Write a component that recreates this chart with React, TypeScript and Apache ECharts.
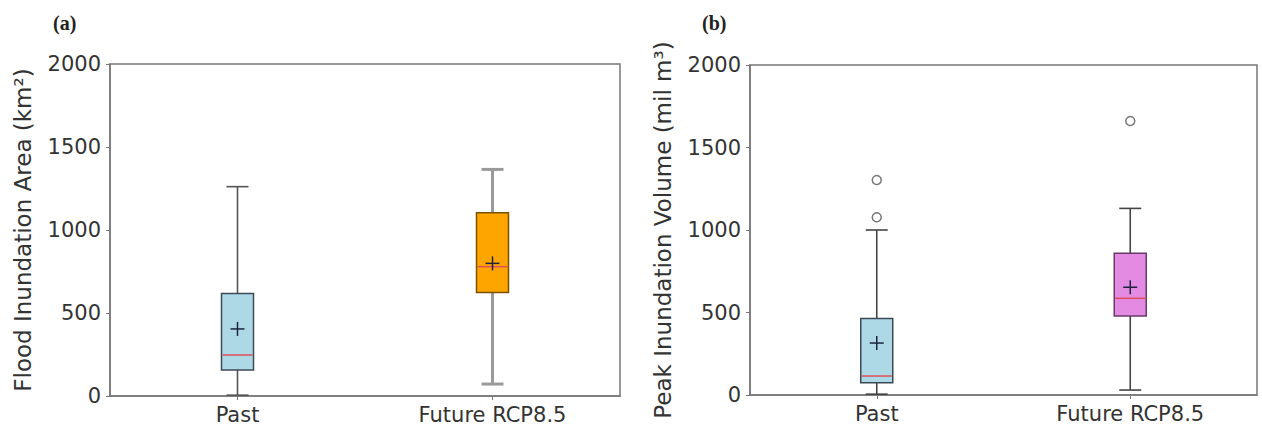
import React, { useEffect, useRef } from "react";
import * as echarts from "echarts";

const categories = ["Past", "Future RCP8.5"];
const yTicks = [0, 500, 1000, 1500, 2000];
// [min, Q1, median, Q3, max]
const areaPast = [5, 157, 247, 618, 1261];
const areaFuture = [72, 624, 779, 1104, 1365];
const areaMeans = [404, 799];
const volumePast = [5, 75, 115, 463, 1000];
const volumeFuture = [30, 479, 586, 859, 1131];
const volumeMeans = [315, 653];
const volumeOutliersPast = [1077, 1303];
const volumeOutliersFuture = [1661];

const panelStyles = [
  [
    { fill: "#add8e6", edge: "#3d4a55", whisker: "#555555", whiskerWidth: 1.6 },
    { fill: "#ffa500", edge: "#7a5200", whisker: "#9a9a9a", whiskerWidth: 3 },
  ],
  [
    { fill: "#add8e6", edge: "#3d4a55", whisker: "#444444", whiskerWidth: 1.6 },
    { fill: "#e38ae3", edge: "#6a3a6a", whisker: "#444444", whiskerWidth: 1.6 },
  ],
];

function boxRows(stats: number[][], means: number[]) {
  return stats.map((s, i) => [i, s[0], s[1], s[2], s[3], s[4], means[i]]);
}

function makeRender(panel: number) {
  return (params: any, api: any) => {
    const idx = api.value(0);
    const st = panelStyles[panel][idx];
    const x = api.coord([idx, 0])[0];
    const yMin = api.coord([idx, api.value(1)])[1];
    const yQ1 = api.coord([idx, api.value(2)])[1];
    const yMed = api.coord([idx, api.value(3)])[1];
    const yQ3 = api.coord([idx, api.value(4)])[1];
    const yMax = api.coord([idx, api.value(5)])[1];
    const yMean = api.coord([idx, api.value(6)])[1];
    const bw = 32;
    const cw = 22;
    const pm = 7;
    const wStyle = { stroke: st.whisker, lineWidth: st.whiskerWidth };
    return {
      type: "group",
      children: [
        { type: "line", shape: { x1: x, y1: yMin, x2: x, y2: yQ1 }, style: wStyle },
        { type: "line", shape: { x1: x, y1: yQ3, x2: x, y2: yMax }, style: wStyle },
        { type: "line", shape: { x1: x - cw / 2, y1: yMin, x2: x + cw / 2, y2: yMin }, style: wStyle },
        { type: "line", shape: { x1: x - cw / 2, y1: yMax, x2: x + cw / 2, y2: yMax }, style: wStyle },
        {
          type: "rect",
          shape: { x: x - bw / 2, y: yQ3, width: bw, height: yQ1 - yQ3 },
          style: { fill: st.fill, stroke: st.edge, lineWidth: 1.5 },
        },
        {
          type: "line",
          shape: { x1: x - bw / 2 + 1, y1: yMed, x2: x + bw / 2 - 1, y2: yMed },
          style: { stroke: "#e0505a", lineWidth: 1.5 },
        },
        { type: "line", shape: { x1: x - pm, y1: yMean, x2: x + pm, y2: yMean }, style: { stroke: "#1c2440", lineWidth: 1.5 } },
        { type: "line", shape: { x1: x, y1: yMean - pm, x2: x, y2: yMean + pm }, style: { stroke: "#1c2440", lineWidth: 1.5 } },
      ],
    };
  };
}

const font = "DejaVu Sans";

function makeXAxis(gridIndex: number) {
  return {
    type: "category",
    gridIndex,
    data: categories,
    boundaryGap: true,
    axisLine: { show: true, lineStyle: { color: "#777", width: 1.5 } },
    axisTick: { show: true, alignWithLabel: true, length: 4, lineStyle: { color: "#777" } },
    axisLabel: { color: "#333", fontFamily: font, fontSize: 21, margin: 8 },
    splitLine: { show: false },
  };
}

function makeYAxis(gridIndex: number, name: string) {
  return {
    type: "value",
    gridIndex,
    min: yTicks[0],
    max: yTicks[yTicks.length - 1],
    interval: yTicks[1] - yTicks[0],
    name,
    nameLocation: "middle",
    nameGap: 76,
    nameTextStyle: { color: "#333", fontFamily: font, fontSize: 23 },
    axisLine: { show: true, lineStyle: { color: "#777", width: 1.5 } },
    axisTick: { show: true, length: 4, lineStyle: { color: "#777" } },
    axisLabel: {
      color: "#333",
      fontFamily: font,
      fontSize: 21,
      margin: 9,
      formatter: (v: number) => String(v),
    },
    splitLine: { show: false },
  };
}

export default function App() {
  const ref = useRef<HTMLDivElement>(null);
  useEffect(() => {
    if (!ref.current) return;
    const chart = echarts.init(ref.current, null, { renderer: "svg" });
    const titleStyle = { fontFamily: "Liberation Serif", fontSize: 20, fontWeight: "bold", color: "#222" };
    chart.setOption({
      animation: false,
      backgroundColor: "#ffffff",
      title: [
        { text: "(a)", left: 48, top: 8, textStyle: titleStyle },
        { text: "(b)", left: 697, top: 8, textStyle: titleStyle },
      ],
      grid: [
        { left: 110, right: 642, top: 64, bottom: 36, show: true, borderColor: "#777", borderWidth: 1.5 },
        { left: 750, right: 5, top: 65, bottom: 37, show: true, borderColor: "#777", borderWidth: 1.5 },
      ],
      xAxis: [makeXAxis(0), makeXAxis(1)],
      yAxis: [
        makeYAxis(0, "Flood Inundation Area (km²)"),
        makeYAxis(1, "Peak Inundation Volume (mil m³)"),
      ],
      series: [
        {
          type: "custom",
          xAxisIndex: 0,
          yAxisIndex: 0,
          renderItem: makeRender(0),
          encode: { x: 0, y: [1, 2, 3, 4, 5, 6] },
          data: boxRows([areaPast, areaFuture], areaMeans),
          z: 5,
        },
        {
          type: "custom",
          xAxisIndex: 1,
          yAxisIndex: 1,
          renderItem: makeRender(1),
          encode: { x: 0, y: [1, 2, 3, 4, 5, 6] },
          data: boxRows([volumePast, volumeFuture], volumeMeans),
          z: 5,
        },
        {
          type: "scatter",
          xAxisIndex: 1,
          yAxisIndex: 1,
          symbol: "circle",
          symbolSize: 9,
          itemStyle: { color: "#ffffff", borderColor: "#555", borderWidth: 1.5 },
          data: [
            ...volumeOutliersPast.map((v) => [0, v]),
            ...volumeOutliersFuture.map((v) => [1, v]),
          ],
          z: 6,
        },
      ],
    });
    return () => chart.dispose();
  }, []);
  return (
    <div
      ref={ref}
      style={{ position: "fixed", left: 0, top: 0, width: 1262, height: 432, background: "#fff" }}
    />
  );
}
